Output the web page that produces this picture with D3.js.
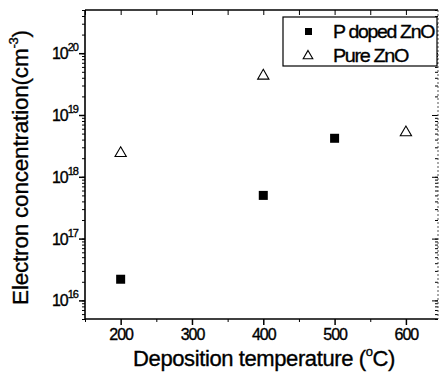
<!DOCTYPE html>
<html><head><meta charset="utf-8">
<script src="https://cdn.jsdelivr.net/npm/d3@7"></script>
<style>body{margin:0;background:#fff}svg{display:block;font-family:"Liberation Sans",Arial,sans-serif}svg text{fill:#000;stroke:#000;stroke-width:0.35px}</style>
</head><body><svg id="c" width="440" height="374"></svg>
<script>
const xTicks = [200, 300, 400, 500, 600];
const yExponents = [16, 17, 18, 19, 20];
const pDopedTemp = [200, 400, 500];
const pDopedConc = [2.2e16, 5.0e17, 4.2e18];
const pureTemp = [200, 400, 600];
const pureConc = [2.4e18, 4.3e19, 5.2e18];
const seriesNames = ["P doped ZnO", "Pure ZnO"];

const svg = d3.select("#c");
const L = 85, R = 438, T = 10, B = 319;
const x = d3.scaleLinear().domain([150, 645]).range([L, R]);
const y = d3.scaleLog().domain([5e15, 5e20]).range([B, T]);

const minorX = d3.range(150, 646, 50);
const minorY = [];
for (let e = 15; e <= 20; e++) for (let m = 1; m <= 9; m++) { const v = m * Math.pow(10, e); if (v >= 5e15 && v <= 5e20) minorY.push(v); }

// bottom axis
const gb = svg.append("g").attr("transform", `translate(0,${B})`)
  .call(d3.axisBottom(x).tickValues(xTicks).tickSize(6).tickPadding(4).tickFormat(d3.format("d")));
gb.select(".domain").remove();
gb.selectAll("text").attr("font-size", 16).attr("letter-spacing", "-1");
gb.selectAll("line").attr("stroke-width", 1.5);
svg.append("g").attr("transform", `translate(0,${B})`)
  .call(d3.axisBottom(x).tickValues(minorX.filter(v => !xTicks.includes(v))).tickSize(3).tickFormat(""))
  .select(".domain").remove();
// top axis (inward)
svg.append("g").attr("transform", `translate(0,${T})`)
  .call(d3.axisBottom(x).tickValues(minorX).tickSize(5).tickFormat(""))
  .select(".domain").remove();

// left axis
const gl = svg.append("g").attr("transform", `translate(${L},0)`)
  .call(d3.axisLeft(y).tickValues(yExponents.map(e => Math.pow(10, e))).tickSize(6).tickFormat(""));
gl.select(".domain").remove();
gl.selectAll("line").attr("stroke-width", 1.5);
svg.append("g").attr("transform", `translate(${L},0)`)
  .call(d3.axisLeft(y).tickValues(minorY).tickSize(3).tickFormat(""))
  .select(".domain").remove();
// right axis (inward)
svg.append("g").attr("transform", `translate(${R},0)`)
  .call(d3.axisRight(y).tickValues(minorY).tickSize(-3).tickFormat(""))
  .select(".domain").remove();
svg.append("g").attr("transform", `translate(${R},0)`)
  .call(d3.axisRight(y).tickValues(yExponents.map(e => Math.pow(10, e))).tickSize(-6).tickFormat(""))
  .select(".domain").remove();

// y tick labels
const yl = svg.append("g");
yExponents.forEach(e => {
  const t = yl.append("text").attr("x", 78).attr("y", y(Math.pow(10, e)) + 6)
    .attr("text-anchor", "end").attr("font-size", 16).attr("letter-spacing", "-1");
  t.append("tspan").text("10");
  t.append("tspan").attr("font-size", 11).attr("dy", -8).text(e);
});

// frame
svg.append("line").attr("x1", L).attr("x2", L).attr("y1", T).attr("y2", B).attr("stroke", "#000").attr("stroke-width", 1.6);
svg.append("line").attr("x1", L).attr("x2", R).attr("y1", B).attr("y2", B).attr("stroke", "#000").attr("stroke-width", 1.6);
svg.append("line").attr("x1", L).attr("x2", R).attr("y1", T).attr("y2", T).attr("stroke", "#000").attr("stroke-width", 1.3);
svg.append("line").attr("x1", R).attr("x2", R).attr("y1", T).attr("y2", B).attr("stroke", "#555").attr("stroke-width", 1).attr("stroke-dasharray", "2,2");

// data
const sq = 9;
svg.append("g").selectAll("rect").data(pDopedTemp.map((t, i) => [t, pDopedConc[i]])).join("rect")
  .attr("x", d => x(d[0]) - sq / 2).attr("y", d => y(d[1]) - sq / 2)
  .attr("width", sq).attr("height", sq).attr("fill", "#000");
const tri = d3.symbol().type(d3.symbolTriangle).size(55);
svg.append("g").selectAll("path").data(pureTemp.map((t, i) => [t, pureConc[i]])).join("path")
  .attr("d", tri).attr("transform", d => `translate(${x(d[0])},${y(d[1])})`)
  .attr("fill", "none").attr("stroke", "#000").attr("stroke-width", 1.1);

// legend
const lg = svg.append("g");
lg.append("rect").attr("x", 283).attr("y", 17).attr("width", 154).attr("height", 49)
  .attr("fill", "#fff").attr("stroke", "#000").attr("stroke-width", 1.2);
lg.append("rect").attr("x", 305).attr("y", 28).attr("width", 7).attr("height", 7).attr("fill", "#000");
lg.append("path").attr("d", d3.symbol().type(d3.symbolTriangle).size(40)).attr("transform", "translate(308,56)")
  .attr("fill", "none").attr("stroke", "#000").attr("stroke-width", 1.1);
seriesNames.forEach((n, i) => {
  lg.append("text").attr("x", 333).attr("y", 38 + i * 24).attr("font-size", 19).attr("letter-spacing", "-1.3")
    .attr("textLength", i === 0 ? 101 : 75).attr("lengthAdjust", "spacingAndGlyphs").text(n);
});

// axis titles
svg.append("text").attr("x", 264).attr("y", 366).attr("text-anchor", "middle")
  .attr("font-size", 22).attr("letter-spacing", "-0.4")
  .call(t => { t.append("tspan").text("Deposition temperature ("); t.append("tspan").attr("font-size", 13).attr("dy", -10).text("o"); t.append("tspan").attr("dy", 10).text("C)"); });
svg.append("text").attr("transform", `translate(28,${(T + B) / 2 + 3}) rotate(-90)`).attr("text-anchor", "middle")
  .attr("font-size", 22.5).attr("letter-spacing", "-0.2")
  .call(t => { t.append("tspan").text("Electron concentration(cm"); t.append("tspan").attr("font-size", 13).attr("dy", -10).text("-3"); t.append("tspan").attr("dy", 10).text(")"); });
</script></body></html>
